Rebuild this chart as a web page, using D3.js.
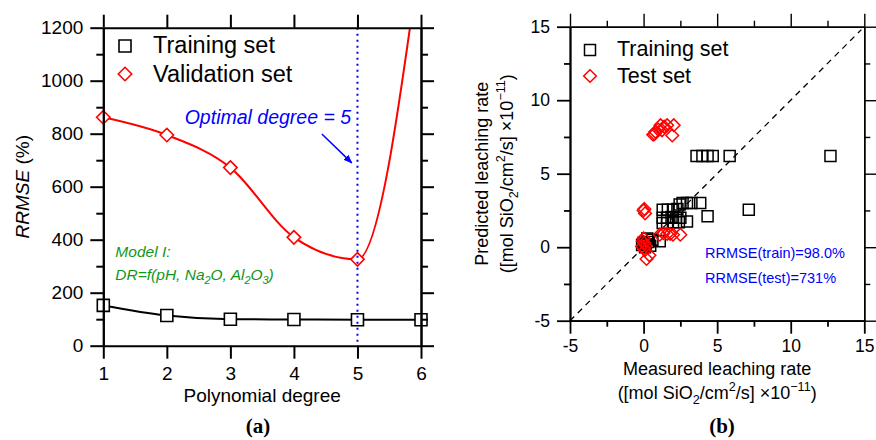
<!DOCTYPE html>
<html>
<head>
<meta charset="utf-8">
<script src="https://cdn.jsdelivr.net/npm/d3@7"></script>
<style>
body { margin: 0; background: #fff; }
text { font-family: "Liberation Sans", Arial, Helvetica, sans-serif; }
</style>
</head>
<body>
<script>
// panel (a): RRMSE vs polynomial degree
var degrees = [1, 2, 3, 4, 5, 6];
var rrmseTrain = [152, 114, 100, 99, 98, 98];
var rrmseValid = [862, 795, 672, 409, 326, 1500];
var optimalDegree = 5;
var yTicksA = [0, 200, 400, 600, 800, 1000, 1200];
var yMinorA = [100, 300, 500, 700, 900, 1100];

// panel (b): predicted vs measured leaching rate (x1e-11)
var trainMeasured = [3.6, 4.0, 4.35, 4.7, 5.85, 12.7,
  2.65, 2.95, 3.25, 3.85, 2.45,
  1.3, 1.65, 2.0, 2.3,
  1.3, 1.6, 1.9, 2.2, 2.5,
  1.3, 1.6, 2.0, 2.4, 2.95,
  4.35, 7.15,
  0.0, 0.15, 0.3, 0.25, 0.6, 1.1, 0.1, 0.45, -0.1];
var trainPredicted = [6.2, 6.2, 6.2, 6.2, 6.2, 6.2,
  3.0, 3.0, 3.0, 3.0, 2.9,
  2.55, 2.55, 2.55, 2.6,
  2.0, 2.0, 2.05, 2.0, 2.0,
  1.65, 1.65, 1.7, 1.7, 1.75,
  2.1, 2.55,
  0.3, 0.2, 0.35, 0.6, 0.5, 0.4, 0.0, 0.1, 0.15];
var testMeasured = [0.65, 0.8, 1.0, 1.15, 1.4, 1.6, 0.75, 1.25, 2.05, 1.95,
  0.0, 0.1, 0.05,
  1.1, 1.35, 1.6, 2.0, 2.5, 1.8,
  0.0, -0.1, 0.1, 0.2, 0.4, 0.05, 0.15, -0.05];
var testPredicted = [7.65, 7.85, 8.0, 8.3, 8.2, 8.3, 7.7, 7.95, 8.3, 7.6,
  2.5, 2.3, 2.6,
  0.85, 0.95, 0.9, 0.85, 0.85, 0.9,
  0.6, 0.05, -0.2, -0.8, -0.55, 0.3, 0.1, 0.4];
var ticksB = [-5, 0, 5, 10, 15];
var minorB = [-2.5, 2.5, 7.5, 12.5];

var width = 876, height = 440;
var font = '"Liberation Sans", Arial, Helvetica, sans-serif';

var svg = d3.select("body").append("svg")
    .attr("width", width)
    .attr("height", height)
    .style("background", "#fff");

function squarePath(s) {
  var h = s / 2;
  return "M" + (-h) + "," + (-h) + "h" + s + "v" + s + "h" + (-s) + "Z";
}
function diamondPath(r) {
  return "M0," + (-r) + "L" + r + ",0L0," + r + "L" + (-r) + ",0Z";
}

// text with sub / superscripts
function rich(sel, parts, size) {
  var shift = 0;
  parts.forEach(function(p) {
    var target = p[1] === "sub" ? size * 0.28 : p[1] === "sup" ? -size * 0.42 : 0;
    sel.append("tspan")
        .attr("dy", target - shift)
        .attr("font-size", p[1] ? size * 0.7 : size)
        .text(p[0]);
    shift = target;
  });
}

function styleAxis(g, sw, size) {
  g.attr("font-size", size).attr("font-family", font);
  g.select(".domain").attr("stroke-width", sw).attr("stroke", "#000");
  g.selectAll(".tick line").attr("stroke-width", sw).attr("stroke", "#000");
  g.selectAll(".tick text").attr("fill", "#000");
}

function addAxis(axis, sw, size) {
  var g = svg.append("g").call(axis);
  styleAxis(g, sw, size);
  return g;
}

// ---------------- panel (a) ----------------
var xA = d3.scaleLinear().domain([1, 6]).range([103.3, 421]);
var yA = d3.scaleLinear().domain([0, 1200]).range([345.7, 27.7]);
var fmt = function(d) { return String(d); };

svg.append("clipPath").attr("id", "clipA")
  .append("rect")
    .attr("x", xA(1)).attr("y", yA(1200))
    .attr("width", xA(6) - xA(1)).attr("height", yA(0) - yA(1200));

var lineA = d3.line()
    .x(function(d, i) { return xA(degrees[i]); })
    .y(function(d) { return yA(d); })
    .curve(d3.curveMonotoneX);

var gA = svg.append("g");

gA.append("path")
    .datum(rrmseValid)
    .attr("clip-path", "url(#clipA)")
    .attr("d", lineA)
    .attr("fill", "none")
    .attr("stroke", "#ff0000")
    .attr("stroke-width", 2);

gA.append("path")
    .datum(rrmseTrain)
    .attr("clip-path", "url(#clipA)")
    .attr("d", lineA)
    .attr("fill", "none")
    .attr("stroke", "#000")
    .attr("stroke-width", 2);

gA.selectAll(".sqA")
    .data(rrmseTrain)
  .enter().append("path")
    .attr("class", "sqA")
    .attr("transform", function(d, i) { return "translate(" + xA(degrees[i]) + "," + yA(d) + ")"; })
    .attr("d", squarePath(12))
    .attr("fill", "#fff")
    .attr("stroke", "#000")
    .attr("stroke-width", 1.6);

gA.selectAll(".dmA")
    .data(rrmseValid.filter(function(d) { return d <= 1200; }))
  .enter().append("path")
    .attr("class", "dmA")
    .attr("transform", function(d, i) { return "translate(" + xA(degrees[i]) + "," + yA(d) + ")"; })
    .attr("d", diamondPath(6.7))
    .attr("fill", "#fff")
    .attr("stroke", "#ff0000")
    .attr("stroke-width", 1.6);

// optimal degree marker
gA.append("line")
    .attr("x1", xA(optimalDegree)).attr("x2", xA(optimalDegree))
    .attr("y1", yA(1200)).attr("y2", yA(0))
    .attr("stroke", "#0000ff")
    .attr("stroke-width", 2)
    .attr("stroke-dasharray", "2,4");

svg.append("defs").append("marker")
    .attr("id", "arrow")
    .attr("viewBox", "0 0 10 10")
    .attr("refX", 9).attr("refY", 5)
    .attr("markerWidth", 9).attr("markerHeight", 9)
    .attr("markerUnits", "userSpaceOnUse")
    .attr("orient", "auto")
  .append("path")
    .attr("d", "M0,1L10,5L0,9Z")
    .attr("fill", "#0000ff");

gA.append("line")
    .attr("x1", xA(4.44)).attr("y1", yA(799))
    .attr("x2", xA(4.91)).attr("y2", yA(690))
    .attr("stroke", "#0000ff")
    .attr("stroke-width", 1.5)
    .attr("marker-end", "url(#arrow)");

gA.append("text")
    .attr("x", xA(4.9)).attr("y", yA(837))
    .attr("text-anchor", "end")
    .attr("font-size", 19.5)
    .attr("font-style", "italic")
    .attr("fill", "#0000ff")
    .text("Optimal degree = 5");

gA.append("text")
    .attr("x", xA(1.19)).attr("y", yA(335))
    .attr("font-size", 15.5)
    .attr("font-style", "italic")
    .attr("fill", "#11961b")
    .text("Model I:");

rich(gA.append("text")
    .attr("x", xA(1.19)).attr("y", yA(248))
    .attr("font-style", "italic")
    .attr("fill", "#11961b"),
  [["DR=f(pH, Na"], ["2", "sub"], ["O, Al"], ["2", "sub"], ["O"], ["3", "sub"], [")"]], 15.5);

// axes (a)
addAxis(d3.axisBottom(xA).tickValues(degrees).tickFormat(fmt).tickSize(13).tickSizeOuter(0).tickPadding(8), 2, 19)
    .attr("transform", "translate(0," + yA(0) + ")");
addAxis(d3.axisTop(xA).tickValues(degrees).tickFormat("").tickSize(13).tickSizeOuter(0), 2, 19)
    .attr("transform", "translate(0," + yA(1200) + ")");
addAxis(d3.axisLeft(yA).tickValues(yTicksA).tickFormat(fmt).tickSize(13).tickSizeOuter(0).tickPadding(7), 2, 19)
    .attr("transform", "translate(" + xA(1) + ",0)");
addAxis(d3.axisLeft(yA).tickValues(yMinorA).tickFormat("").tickSize(7).tickSizeOuter(0), 2, 19)
    .attr("transform", "translate(" + xA(1) + ",0)");
addAxis(d3.axisRight(yA).tickValues(yTicksA).tickFormat("").tickSize(13).tickSizeOuter(0), 2, 19)
    .attr("transform", "translate(" + xA(6) + ",0)");
addAxis(d3.axisRight(yA).tickValues(yMinorA).tickFormat("").tickSize(7).tickSizeOuter(0), 2, 19)
    .attr("transform", "translate(" + xA(6) + ",0)");

svg.append("text")
    .attr("x", (xA(1) + xA(6)) / 2).attr("y", 402)
    .attr("text-anchor", "middle")
    .attr("font-size", 19)
    .text("Polynomial degree");

var yLabA = svg.append("text")
    .attr("transform", "translate(29," + (yA(0) + yA(1200)) / 2 + ") rotate(-90)")
    .attr("text-anchor", "middle")
    .attr("font-size", 19);
yLabA.append("tspan").attr("font-style", "italic").text("RRMSE");
yLabA.append("tspan").text(" (%)");

// legend (a)
svg.append("path").attr("transform", "translate(125,46)").attr("d", squarePath(12))
    .attr("fill", "#fff").attr("stroke", "#000").attr("stroke-width", 1.6);
svg.append("text").attr("x", 153).attr("y", 52.5).attr("font-size", 23.5).text("Training set");
svg.append("path").attr("transform", "translate(125,74)").attr("d", diamondPath(6.7))
    .attr("fill", "#fff").attr("stroke", "#ff0000").attr("stroke-width", 1.6);
svg.append("text").attr("x", 153).attr("y", 82).attr("font-size", 23.5).text("Validation set");

// ---------------- panel (b) ----------------
var xB = d3.scaleLinear().domain([-5, 15]).range([570, 864.3]);
var yB = d3.scaleLinear().domain([-5, 15]).range([320.7, 26.7]);

var gB = svg.append("g");

gB.append("line")
    .attr("x1", xB(-5)).attr("y1", yB(-5))
    .attr("x2", xB(14.8)).attr("y2", yB(14.8))
    .attr("stroke", "#000")
    .attr("stroke-width", 1.3)
    .attr("stroke-dasharray", "6,5");

gB.selectAll(".sqB")
    .data(trainMeasured)
  .enter().append("path")
    .attr("class", "sqB")
    .attr("transform", function(d, i) { return "translate(" + xB(d) + "," + yB(trainPredicted[i]) + ")"; })
    .attr("d", squarePath(11))
    .attr("fill", "none")
    .attr("stroke", "#000")
    .attr("stroke-width", 1.5);

gB.selectAll(".dmB")
    .data(testMeasured)
  .enter().append("path")
    .attr("class", "dmB")
    .attr("transform", function(d, i) { return "translate(" + xB(d) + "," + yB(testPredicted[i]) + ")"; })
    .attr("d", diamondPath(6.3))
    .attr("fill", "none")
    .attr("stroke", "#ff0000")
    .attr("stroke-width", 1.5);

gB.append("text")
    .attr("x", xB(4.18)).attr("y", yB(-0.74))
    .attr("font-size", 14.5)
    .attr("fill", "#0000ff")
    .text("RRMSE(train)=98.0%");
gB.append("text")
    .attr("x", xB(4.18)).attr("y", yB(-2.44))
    .attr("font-size", 14.5)
    .attr("fill", "#0000ff")
    .text("RRMSE(test)=731%");

// axes (b)
addAxis(d3.axisBottom(xB).tickValues(ticksB).tickFormat(fmt).tickSize(13).tickSizeOuter(0).tickPadding(6), 1.8, 17.5)
    .attr("transform", "translate(0," + yB(-5) + ")");
addAxis(d3.axisBottom(xB).tickValues(minorB).tickFormat("").tickSize(6).tickSizeOuter(0), 1.8, 17.5)
    .attr("transform", "translate(0," + yB(-5) + ")");
addAxis(d3.axisLeft(yB).tickValues(ticksB).tickFormat(fmt).tickSize(13).tickSizeOuter(0).tickPadding(7), 1.8, 17.5)
    .attr("transform", "translate(" + xB(-5) + ",0)");
addAxis(d3.axisLeft(yB).tickValues(minorB).tickFormat("").tickSize(6).tickSizeOuter(0), 1.8, 17.5)
    .attr("transform", "translate(" + xB(-5) + ",0)");
addAxis(d3.axisTop(xB).tickValues(ticksB).tickFormat("").tickSize(13).tickSizeOuter(0), 1.4, 17.5)
    .attr("transform", "translate(0," + yB(15) + ")");
addAxis(d3.axisTop(xB).tickValues(minorB).tickFormat("").tickSize(6).tickSizeOuter(0), 1.4, 17.5)
    .attr("transform", "translate(0," + yB(15) + ")");
addAxis(d3.axisRight(yB).tickValues(ticksB).tickFormat("").tickSize(13).tickSizeOuter(0), 1.4, 17.5)
    .attr("transform", "translate(" + xB(15) + ",0)");
addAxis(d3.axisRight(yB).tickValues(minorB).tickFormat("").tickSize(6).tickSizeOuter(0), 1.4, 17.5)
    .attr("transform", "translate(" + xB(15) + ",0)");

var cxB = (xB(-5) + xB(15)) / 2, cyB = (yB(-5) + yB(15)) / 2;

svg.append("text")
    .attr("x", cxB).attr("y", 375)
    .attr("text-anchor", "middle")
    .attr("font-size", 18)
    .text("Measured leaching rate");
rich(svg.append("text")
    .attr("x", cxB).attr("y", 399)
    .attr("text-anchor", "middle"),
  [["([mol SiO"], ["2", "sub"], ["/cm"], ["2", "sup"], ["/s] ×10"], ["−11", "sup"], [")"]], 18);

svg.append("text")
    .attr("transform", "translate(488," + cyB + ") rotate(-90)")
    .attr("text-anchor", "middle")
    .attr("font-size", 18)
    .text("Predicted leaching rate");
rich(svg.append("text")
    .attr("transform", "translate(513," + cyB + ") rotate(-90)")
    .attr("text-anchor", "middle"),
  [["([mol SiO"], ["2", "sub"], ["/cm"], ["2", "sup"], ["/s] ×10"], ["−11", "sup"], [")"]], 18);

// legend (b)
svg.append("path").attr("transform", "translate(590,50)").attr("d", squarePath(11))
    .attr("fill", "none").attr("stroke", "#000").attr("stroke-width", 1.5);
svg.append("text").attr("x", 617).attr("y", 55.5).attr("font-size", 21.5).text("Training set");
svg.append("path").attr("transform", "translate(590,76)").attr("d", diamondPath(6.3))
    .attr("fill", "none").attr("stroke", "#ff0000").attr("stroke-width", 1.5);
svg.append("text").attr("x", 617).attr("y", 82.5).attr("font-size", 21.5).text("Test set");

// panel letters
svg.append("text")
    .attr("x", 258).attr("y", 433)
    .attr("text-anchor", "middle")
    .attr("font-size", 21)
    .attr("font-weight", "bold")
    .style("font-family", '"Liberation Serif", "Times New Roman", serif')
    .text("(a)");
svg.append("text")
    .attr("x", 722).attr("y", 433)
    .attr("text-anchor", "middle")
    .attr("font-size", 21)
    .attr("font-weight", "bold")
    .style("font-family", '"Liberation Serif", "Times New Roman", serif')
    .text("(b)");
</script>
</body>
</html>
